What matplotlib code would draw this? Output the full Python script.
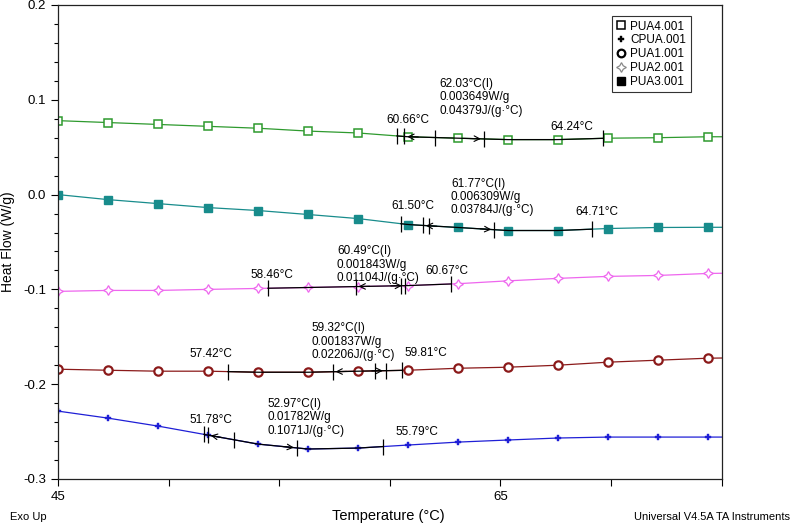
import matplotlib
matplotlib.use('Agg')
import matplotlib.pyplot as plt
from matplotlib.lines import Line2D
import numpy as np

plt.rcParams['font.family'] = ['Liberation Sans', 'DejaVu Sans']

# temperatures of the sampled points (deg C), last value is the right edge
temps = [45.0, 47.26, 49.52, 51.78, 54.04, 56.30, 58.56, 60.82, 63.08, 65.33,
         67.59, 69.85, 72.11, 74.37, 75.0]

pua4 = [0.078, 0.076, 0.074, 0.072, 0.070, 0.067, 0.065, 0.061, 0.0595, 0.058,
        0.058, 0.0595, 0.060, 0.061, 0.061]
pua3 = [0.000, -0.0053, -0.0095, -0.0137, -0.0168, -0.021, -0.0253, -0.0316,
        -0.0347, -0.0379, -0.0379, -0.0358, -0.0347, -0.0345, -0.0345]
pua2 = [-0.1021, -0.1011, -0.1011, -0.1, -0.099, -0.098, -0.097, -0.096,
        -0.094, -0.091, -0.0884, -0.0863, -0.0853, -0.0832, -0.083]
pua1 = [-0.1842, -0.1853, -0.1863, -0.1863, -0.1874, -0.1874, -0.1863, -0.1853,
        -0.1832, -0.1821, -0.18, -0.1768, -0.1747, -0.1726, -0.1724]
cpua = [-0.2284, -0.2358, -0.2442, -0.2537, -0.2632, -0.2684, -0.2674, -0.2642,
        -0.2611, -0.2589, -0.2568, -0.2558, -0.2558, -0.2558, -0.2558]

names = ['PUA4.001', 'CPUA.001', 'PUA1.001', 'PUA2.001', 'PUA3.001']

# glass transition analysis: tangent start, onset, inflection, end, tangent end
tg_pua4 = [60.32, 60.66, 62.03, 64.24, 69.63]
tg_pua3 = [60.50, 61.50, 61.77, 64.71, 69.13]
tg_pua2 = [54.49, 58.46, 60.49, 60.67, 62.76]
tg_pua1 = [52.68, 57.42, 59.32, 59.81, 60.54]
tg_cpua = [51.60, 51.78, 52.97, 55.79, 59.69]

infl_pua4 = '62.03°C(I)\n0.003649W/g\n0.04379J/(g·°C)'
infl_pua3 = '61.77°C(I)\n0.006309W/g\n0.03784J/(g·°C)'
infl_pua2 = '60.49°C(I)\n0.001843W/g\n0.01104J/(g·°C)'
infl_pua1 = '59.32°C(I)\n0.001837W/g\n0.02206J/(g·°C)'
infl_cpua = '52.97°C(I)\n0.01782W/g\n0.1071J/(g·°C)'

xticks = [45, 50, 55, 60, 65, 70, 75]
xticklabels = ['45', '', '', '', '65', '', '']
yticks = [0.2, 0.1, 0.0, -0.1, -0.2, -0.3]
yticklabels = ['0.2', '0.1', '0.0', '-0.1', '-0.2', '-0.3']

fig = plt.figure(figsize=(7.94, 5.26), dpi=100)
ax = fig.add_axes([0.073, 0.0894, 0.836, 0.9011])

curves = [
    (pua4, '#2e9a2e', dict(marker='s', mfc='white', ms=5.5, mew=1.1)),
    (pua3, '#188c8c', dict(marker='s', mfc='#188c8c', ms=5.5, mew=1.0)),
    (pua2, '#ee66ee', dict(marker=(4, 1, 0), mfc='white', ms=7, mew=0.9)),
    (pua1, '#8b1a1a', dict(marker='o', mfc='white', ms=6, mew=1.6)),
    (cpua, '#1f1fd6', dict(marker='P', ms=5, mew=0.3)),
]
for vals, col, mk in curves:
    ax.plot(temps, vals, color=col, lw=0.9, mec=col, markevery=slice(0, 14), **mk)

# analysis marks
analyses = [
    (pua4, tg_pua4, infl_pua4, (60.82, 0.0789), (62.26, 0.1232), (68.23, 0.0716)),
    (pua3, tg_pua3, infl_pua3, (61.04, -0.0116), (62.76, 0.0179), (69.36, -0.0179)),
    (pua2, tg_pua2, infl_pua2, (54.67, -0.0853), (57.61, -0.0537), (62.58, -0.0811)),
    (pua1, tg_pua1, infl_pua1, (51.91, -0.1684), (56.48, -0.1347), (61.63, -0.1674)),
    (cpua, tg_cpua, infl_cpua, (51.91, -0.2379), (54.49, -0.2147), (61.22, -0.2505)),
]
for vals, tg, infl, pos_on, pos_in, pos_end in analyses:
    xs = np.linspace(tg[0], tg[4], 40)
    ys = np.interp(xs, temps, vals)
    ax.plot(xs, ys, color='black', lw=0.9, zorder=4)
    ty = np.interp(tg, temps, vals)
    ax.plot(tg, ty, ls='none', marker='|', ms=11, mew=0.9, color='black', zorder=5)
    # arrows toward onset and end
    on_y = np.interp(tg[1], temps, vals)
    en_y = np.interp(tg[3], temps, vals)
    ax.annotate('', xy=(tg[1], on_y), xytext=(tg[1] + 0.75, np.interp(tg[1] + 0.75, temps, vals)),
                arrowprops=dict(arrowstyle='->', color='black', lw=0.8), zorder=6)
    ax.annotate('', xy=(tg[3], en_y), xytext=(tg[3] - 0.75, np.interp(tg[3] - 0.75, temps, vals)),
                arrowprops=dict(arrowstyle='->', color='black', lw=0.8), zorder=6)
    ax.text(pos_on[0], pos_on[1], '%.2f°C' % tg[1], ha='center', va='center', fontsize=8.5)
    ax.text(pos_in[0], pos_in[1], infl, ha='left', va='top', fontsize=8.5, linespacing=1.15)
    ax.text(pos_end[0], pos_end[1], '%.2f°C' % tg[3], ha='center', va='center', fontsize=8.5)

ax.set_xlim(45, 75)
ax.set_ylim(-0.3, 0.2)
ax.set_xticks(xticks)
ax.set_xticklabels(xticklabels)
ax.set_yticks(yticks)
ax.set_yticklabels(yticklabels)
ax.set_yticks(np.arange(-0.3, 0.2001, 0.02), minor=True)
ax.tick_params(axis='both', direction='out', length=5, width=0.8, labelsize=9.5)
ax.tick_params(axis='y', which='minor', direction='out', length=3, width=0.8)
for s in ax.spines.values():
    s.set_linewidth(0.9)
    s.set_color('#222222')
ax.set_ylabel('Heat Flow (W/g)', fontsize=10, labelpad=6)

handles = [
    Line2D([], [], ls='none', marker='s', mfc='white', mec='black', ms=5.5, mew=1.1),
    Line2D([], [], ls='none', marker='P', color='black', ms=5, mew=0.3),
    Line2D([], [], ls='none', marker='o', mfc='white', mec='black', ms=5.5, mew=1.6),
    Line2D([], [], ls='none', marker=(4, 1, 0), mfc='white', mec='#888888', ms=7, mew=0.9),
    Line2D([], [], ls='none', marker='s', color='black', ms=5.5),
]
leg = ax.legend(handles, names, loc='upper left', bbox_to_anchor=(0.834, 0.977),
                fontsize=8.5, frameon=True, fancybox=False, edgecolor='#333333',
                framealpha=1, handlelength=0.8, handletextpad=0.4, borderpad=0.4,
                labelspacing=0.15, borderaxespad=0)
leg.get_frame().set_linewidth(0.8)

narrow = ['Liberation Sans Narrow', 'Liberation Sans', 'DejaVu Sans']
fig.text(0.013, 0.017, 'Exo Up', fontsize=8, family=narrow, ha='left', va='center')
fig.text(0.489, 0.019, 'Temperature (°C)', fontsize=10.5, family=narrow, ha='center', va='center')
fig.text(0.995, 0.017, 'Universal V4.5A TA Instruments', fontsize=8, family=narrow,
         ha='right', va='center')

fig.savefig('out.png', dpi=100)
